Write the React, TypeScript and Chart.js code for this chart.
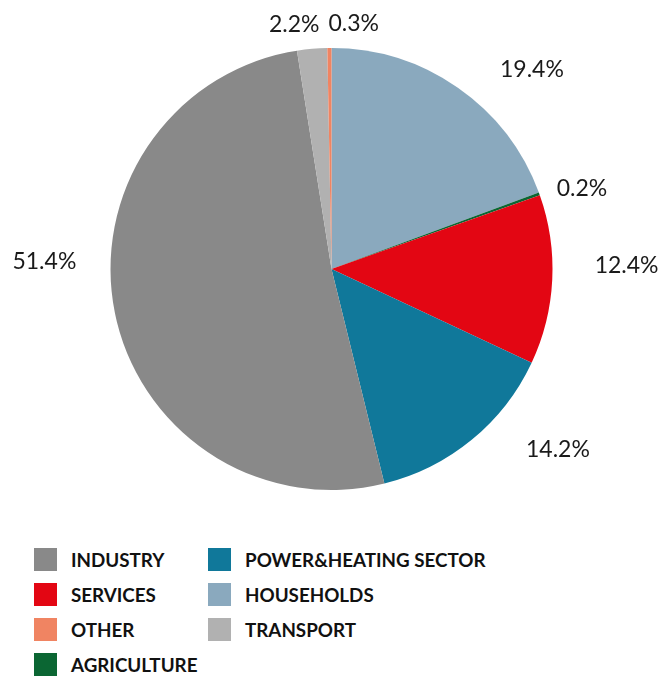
import React, { useEffect, useRef } from "react";
import { Chart, registerables } from "chart.js";

Chart.register(...registerables);

const categories = ["HOUSEHOLDS", "AGRICULTURE", "SERVICES", "POWER&HEATING SECTOR", "INDUSTRY", "TRANSPORT", "OTHER"];
const shares = [19.4, 0.2, 12.4, 14.2, 51.4, 2.2, 0.3];
const colors = ["#8AA9BE", "#0B6633", "#E30613", "#10789A", "#898989", "#B1B1B1", "#F08462"];
const legendOrder = ["INDUSTRY", "POWER&HEATING SECTOR", "SERVICES", "HOUSEHOLDS", "OTHER", "TRANSPORT", "AGRICULTURE"];

// label layout tweaks (degrees clockwise, px gap beyond the rim)
const labelAngleOffsets = [10.1, 1.8, -3.6, -12.2, 13.0, -3.6, 5.7];
const labelGaps = [32, 15, 42, 36, 34, 12.5, 12.5];

const FONT_PX = 23;

const labelPlugin = {
  id: "outsideLabels",
  afterDatasetsDraw(chart: any) {
    const ctx = chart.ctx;
    const meta = chart.getDatasetMeta(0);
    ctx.save();
    ctx.font = FONT_PX + "px Lato";
    ctx.fillStyle = "#1a1a1a";
    ctx.textAlign = "center";
    ctx.textBaseline = "alphabetic";
    const capH = 0.72 * FONT_PX;
    meta.data.forEach((arc: any, i: number) => {
      const { x, y, startAngle, endAngle, outerRadius } = arc.getProps(["x", "y", "startAngle", "endAngle", "outerRadius"], true);
      const mid = (startAngle + endAngle) / 2 + (labelAngleOffsets[i] * Math.PI) / 180;
      const text = shares[i].toFixed(1) + "%";
      const w = ctx.measureText(text).width;
      const h = capH + 6;
      const c = Math.cos(mid), s = Math.sin(mid);
      const ext = Math.abs(c) * w / 2 + Math.abs(s) * h / 2;
      const D = outerRadius + labelGaps[i] + ext;
      ctx.fillText(text, x + c * D, y + s * D + capH / 2);
    });
    ctx.restore();
  },
};

export default function App() {
  const ref = useRef<HTMLCanvasElement>(null);
  useEffect(() => {
    const chart = new Chart(ref.current!, {
      type: "pie",
      data: {
        labels: categories,
        datasets: [{ data: shares, backgroundColor: colors, borderWidth: 0 }],
      },
      options: {
        animation: false,
        responsive: false,
        maintainAspectRatio: false,
        layout: { padding: { left: 110, top: 48, right: 110, bottom: 50 } },
        plugins: { legend: { display: false }, tooltip: { enabled: false } },
      },
      plugins: [labelPlugin],
    });
    return () => chart.destroy();
  }, []);

  return (
    <div style={{ position: "fixed", left: 0, top: 0, width: 663, height: 676, background: "#fff", fontFamily: "Lato" }}>
      <canvas ref={ref} width={663} height={540} style={{ position: "absolute", left: 0, top: 0 }} />
      {legendOrder.map((name, k) => {
        const idx = categories.indexOf(name);
        const col = k % 2;
        const row = Math.floor(k / 2);
        return (
          <div key={name} style={{ position: "absolute", left: col === 0 ? 34 : 208, top: 548 + row * 35, height: 23, display: "flex", alignItems: "center" }}>
            <div style={{ width: 23, height: 23, background: colors[idx] }} />
            <span style={{ marginLeft: 14, fontWeight: 700, fontSize: 18.8, color: "#111", whiteSpace: "nowrap" }}>{name}</span>
          </div>
        );
      })}
    </div>
  );
}
